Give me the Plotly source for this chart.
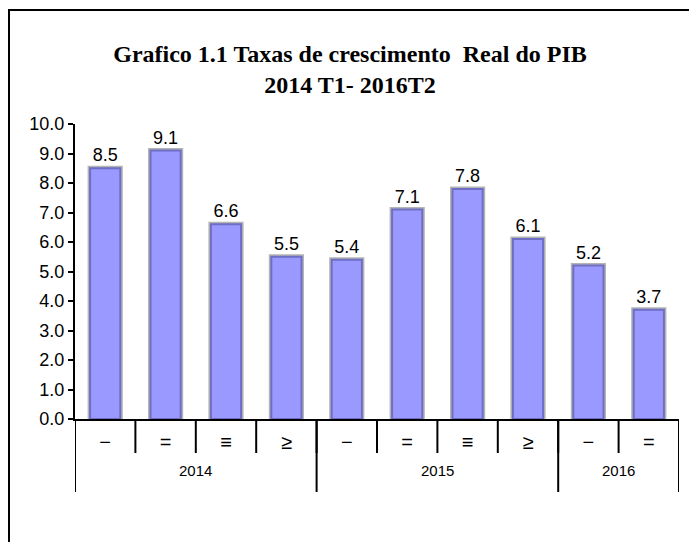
import plotly.graph_objects as go

years = ["2014", "2014", "2014", "2014", "2015", "2015", "2015", "2015", "2016", "2016"]
quarters = ["−", "=", "≡", "≥", "−", "=", "≡", "≥", "−", "="]
values = [8.5, 9.1, 6.6, 5.5, 5.4, 7.1, 7.8, 6.1, 5.2, 3.7]
labels = [f"{v:.1f}" for v in values]
year_labels = ["2014", "2015", "2016"]

FONT = "Liberation Sans, Arial, sans-serif"

cats = [f"{y} {q}{i}" for i, (y, q) in enumerate(zip(years, quarters))]

# plot-area geometry (px) used to convert offsets to paper units
PLOT_W, PLOT_H = 604, 295
L, T = 67, 116

fig = go.Figure()
fig.add_trace(go.Bar(
    x=cats, y=values, width=0.5,
    marker=dict(color="#9999ff", line=dict(color="#b4b4b4", width=5)),
    hoverinfo="skip", showlegend=False,
))
fig.add_trace(go.Bar(
    x=cats, y=values, width=0.5,
    marker=dict(color="#9999ff", line=dict(color="#6e6ec4", width=2)),
    text=labels, textposition="outside", cliponaxis=False,
    textfont=dict(family=FONT, size=18, color="black"),
    showlegend=False,
))

shapes = []
# inner separators between quarters
for i in range(len(cats) + 1):
    shapes.append(dict(type="line", xref="x", yref="paper",
                       x0=i - 0.5, x1=i - 0.5, y0=0, y1=-34 / PLOT_H,
                       line=dict(color="black", width=2)))
# year dividers and year labels
annotations = []
start = 0
for yr in year_labels:
    n = years.count(yr)
    end = start + n
    shapes.append(dict(type="line", xref="x", yref="paper",
                       x0=start - 0.5, x1=start - 0.5, y0=0, y1=-73 / PLOT_H,
                       line=dict(color="black", width=2)))
    annotations.append(dict(text=yr, xref="x", yref="paper",
                            x=(start + end - 1) / 2, y=-52 / PLOT_H,
                            xanchor="center", yanchor="middle", showarrow=False,
                            font=dict(family=FONT, size=15, color="black")))
    start = end
shapes.append(dict(type="line", xref="x", yref="paper",
                   x0=start - 0.5, x1=start - 0.5, y0=0, y1=-73 / PLOT_H,
                   line=dict(color="black", width=2)))
# outer border of the chart
shapes.append(dict(type="rect", xref="paper", yref="paper",
                   x0=(1 - L) / PLOT_W, x1=1.2, y0=-1, y1=1 + (T - 2) / PLOT_H,
                   line=dict(color="black", width=2), fillcolor="rgba(0,0,0,0)", layer="below"))

fig.update_layout(
    width=697, height=542,
    barmode="overlay",
    paper_bgcolor="white", plot_bgcolor="white",
    margin=dict(l=L, r=697 - L - PLOT_W, t=T, b=542 - T - PLOT_H),
    title=dict(
        text="Grafico 1.1 Taxas de crescimento  Real do PIB<br>2014 T1- 2016T2",
        x=342 / 697, xanchor="center", y=1 - 54 / 542, yanchor="middle",
        font=dict(family="Liberation Serif, Times New Roman, serif", size=24, color="black", weight="bold"),
    ),
    xaxis=dict(
        type="category", tickmode="array", tickvals=cats, ticktext=quarters,
        showline=True, linecolor="black", linewidth=2,
        ticks="", ticklabelstandoff=4,
        tickfont=dict(family=FONT, size=20, color="black"),
        showgrid=False, range=[-0.5, len(cats) - 0.5],
    ),
    yaxis=dict(
        range=[0, 10], dtick=1, tickformat=".1f",
        showline=True, linecolor="black", linewidth=2,
        ticks="outside", ticklen=5, tickcolor="black", tickwidth=2,
        tickfont=dict(family=FONT, size=18, color="black"),
        showgrid=False, zeroline=False,
    ),
    shapes=shapes,
    annotations=annotations,
)

fig.write_html("out.html")
